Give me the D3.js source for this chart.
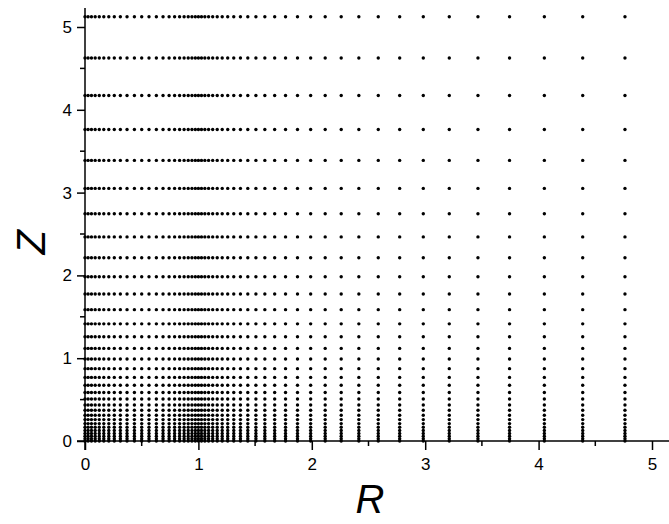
<!DOCTYPE html>
<html>
<head>
<meta charset="utf-8">
<script src="https://cdn.jsdelivr.net/npm/d3@7"></script>
<style>
  html, body { margin: 0; padding: 0; background: #fff; }
  svg { display: block; font-family: "Liberation Sans", Arial, sans-serif; }
</style>
</head>
<body>
<svg id="chart" width="669" height="524"></svg>
<script>
// Mesh node coordinates along R (clustered at R = 0 and R = 1, stretched outward)
const rNodes = [
  0, 0.0271, 0.0569, 0.0898, 0.1260, 0.1659, 0.2099, 0.2584, 0.3118, 0.3707, 0.4356,
  0.5,
  0.5644, 0.6293, 0.6882, 0.7416, 0.7901, 0.8341, 0.8740, 0.9102, 0.9431, 0.9729, 1,
  1.0271, 1.0569, 1.0898, 1.1260, 1.1659, 1.2099, 1.2584, 1.3118, 1.3707, 1.4356,
  1.5071, 1.5859, 1.6727, 1.7684, 1.8739, 1.9900, 2.1181, 2.2593, 2.4148, 2.5861,
  2.7750, 2.9831, 3.2124, 3.4652, 3.7438, 4.0507, 4.3889, 4.7616
];

// Mesh node coordinates along Z (clustered at Z = 0)
const zNodes = [
  0, 0.0271, 0.0569, 0.0898, 0.1260, 0.1659, 0.2099, 0.2584, 0.3118, 0.3707, 0.4356,
  0.5071, 0.5859, 0.6727, 0.7684, 0.8739, 0.9900, 1.1181, 1.2593, 1.4148, 1.5861,
  1.7750, 1.9831, 2.2124, 2.4652, 2.7438, 3.0507, 3.3889, 3.7616, 4.1724, 4.6249, 5.1239
];

const xTicks = [0, 1, 2, 3, 4, 5];
const yTicks = [0, 1, 2, 3, 4, 5];
const xMinorTicks = [0.5, 1.5, 2.5, 3.5, 4.5];
const yMinorTicks = [0.5, 1.5, 2.5, 3.5, 4.5];

const svg = d3.select("#chart");

const x = d3.scaleLinear().domain([0, 5]).range([85, 652]);
const y = d3.scaleLinear().domain([0, 5]).range([441, 27]);

// grid nodes
const nodes = [];
zNodes.forEach(z => rNodes.forEach(r => nodes.push({ r, z })));

svg.append("g")
  .selectAll("circle")
  .data(nodes)
  .join("circle")
  .attr("cx", d => x(d.r))
  .attr("cy", d => y(d.z))
  .attr("r", 1.7)
  .attr("fill", "#000");

// axes
const xAxis = svg.append("g")
  .attr("transform", `translate(0,${y(0)})`)
  .call(d3.axisBottom(x).tickValues(xTicks).tickFormat(d3.format("d")).tickSize(9).tickSizeOuter(0).tickPadding(8));
const yAxis = svg.append("g")
  .attr("transform", `translate(${x(0)},0)`)
  .call(d3.axisLeft(y).tickValues(yTicks).tickFormat(d3.format("d")).tickSize(8).tickSizeOuter(0).tickPadding(5));

[xAxis, yAxis].forEach(g => {
  g.select(".domain").remove();
  g.selectAll(".tick line").attr("stroke", "#000").attr("stroke-width", 1.5);
  g.selectAll(".tick text").attr("fill", "#000").style("font-size", "17px");
});

svg.append("g").selectAll("line")
  .data(xMinorTicks).join("line")
  .attr("x1", d => x(d)).attr("x2", d => x(d))
  .attr("y1", y(0)).attr("y2", y(0) + 5)
  .attr("stroke", "#000").attr("stroke-width", 1.5);

svg.append("g").selectAll("line")
  .data(yMinorTicks).join("line")
  .attr("y1", d => y(d)).attr("y2", d => y(d))
  .attr("x1", x(0)).attr("x2", x(0) - 5)
  .attr("stroke", "#000").attr("stroke-width", 1.5);

// axis lines
svg.append("line")
  .attr("x1", x(0) - 8).attr("x2", 669)
  .attr("y1", y(0)).attr("y2", y(0))
  .attr("stroke", "#000").attr("stroke-width", 1.5);
svg.append("line")
  .attr("x1", x(0)).attr("x2", x(0))
  .attr("y1", y(0) + 9).attr("y2", 8)
  .attr("stroke", "#000").attr("stroke-width", 1.5);

// axis titles
svg.append("text")
  .attr("x", 370).attr("y", 513)
  .attr("text-anchor", "middle")
  .style("font-size", "40px").style("font-style", "italic")
  .text("R");

svg.append("text")
  .attr("transform", `translate(45,${y(2.4)}) rotate(-90)`)
  .attr("text-anchor", "middle")
  .style("font-size", "40px").style("font-style", "italic")
  .text("Z");
</script>
</body>
</html>
